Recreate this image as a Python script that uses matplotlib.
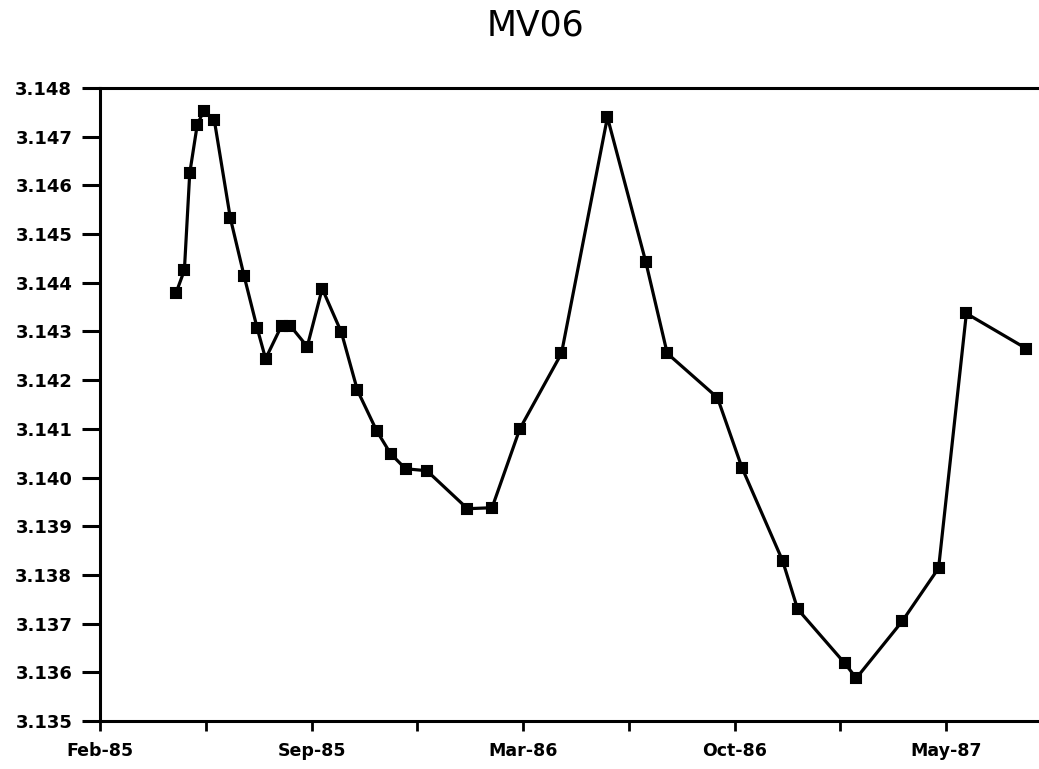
import matplotlib
matplotlib.use("Agg")
import matplotlib.pyplot as plt
import matplotlib.dates as mdates
import numpy as np
from datetime import datetime, timedelta

# ---- data ----
dates = [
    "1985-05-10", "1985-05-18", "1985-05-23", "1985-05-30", "1985-06-05",
    "1985-06-15", "1985-06-30", "1985-07-13", "1985-07-25", "1985-08-02",
    "1985-08-17", "1985-08-25", "1985-09-10", "1985-09-24", "1985-10-12",
    "1985-10-27", "1985-11-14", "1985-11-27", "1985-12-11", "1985-12-31",
    "1986-02-07", "1986-03-02", "1986-03-28", "1986-05-06", "1986-06-18",
    "1986-07-24", "1986-08-13", "1986-09-29", "1986-10-22", "1986-11-29",
    "1986-12-13", "1987-01-26", "1987-02-06", "1987-03-21", "1987-04-24",
    "1987-05-20", "1987-07-15",
]
values = [
    3.14378, 3.14426, 3.14625, 3.14724, 3.14753,
    3.14734, 3.14533, 3.14413, 3.14308, 3.14244,
    3.14312, 3.14312, 3.14269, 3.14388, 3.14298,
    3.14179, 3.14096, 3.14049, 3.14018, 3.14014,
    3.13936, 3.13938, 3.14100, 3.14255, 3.14740,
    3.14442, 3.14255, 3.14164, 3.14020, 3.13829,
    3.13730, 3.13619, 3.13588, 3.13705, 3.13814,
    3.14337, 3.14265,
]
title = "MV06"
axis_start = "1985-02-28"
tick_step_days = 99
n_ticks = 9
axis_span_days = 879
y_ticks = [3.135, 3.136, 3.137, 3.138, 3.139, 3.140, 3.141,
           3.142, 3.143, 3.144, 3.145, 3.146, 3.147, 3.148]

# ---- plot ----
W, H = 1039, 769
fig = plt.figure(figsize=(W / 100, H / 100), dpi=100)
left, right, top, bottom = 100, 1039, 88, 721
ax = fig.add_axes([left / W, 1 - bottom / H, (right - left) / W, (bottom - top) / H])

x = [datetime.strptime(d, "%Y-%m-%d") for d in dates]
ax.plot(x, values, color="black", lw=2.3, marker="s", ms=7.5,
        mfc="black", mec="black", mew=1.5, solid_joinstyle="round")

start = datetime.strptime(axis_start, "%Y-%m-%d")
ticks = [start + timedelta(days=tick_step_days * k) for k in range(n_ticks)]
labels = [t.strftime("%b-%y") if k % 2 == 0 else "" for k, t in enumerate(ticks)]
ax.set_xlim(start, start + timedelta(days=axis_span_days))
ax.set_xticks(ticks)
ax.set_xticklabels(labels)

ax.set_ylim(3.135, 3.148)
ax.set_yticks(y_ticks)
ax.set_yticklabels([f"{v:.3f}" for v in y_ticks])

for s in ["left", "bottom", "top"]:
    ax.spines[s].set_linewidth(2.2)
ax.spines["right"].set_visible(False)

ax.tick_params(axis="y", direction="out", length=13, width=2.2, pad=7,
               labelsize=13)
ax.tick_params(axis="x", direction="out", length=7, width=2.0, pad=8,
               labelsize=12.5)
for lab in ax.get_xticklabels() + ax.get_yticklabels():
    lab.set_fontweight("bold")

fig.text(535 / W, 1 - 26 / H, title, ha="center", va="center",
         fontsize=25, color="black")

fig.savefig("out.png", dpi=100)
